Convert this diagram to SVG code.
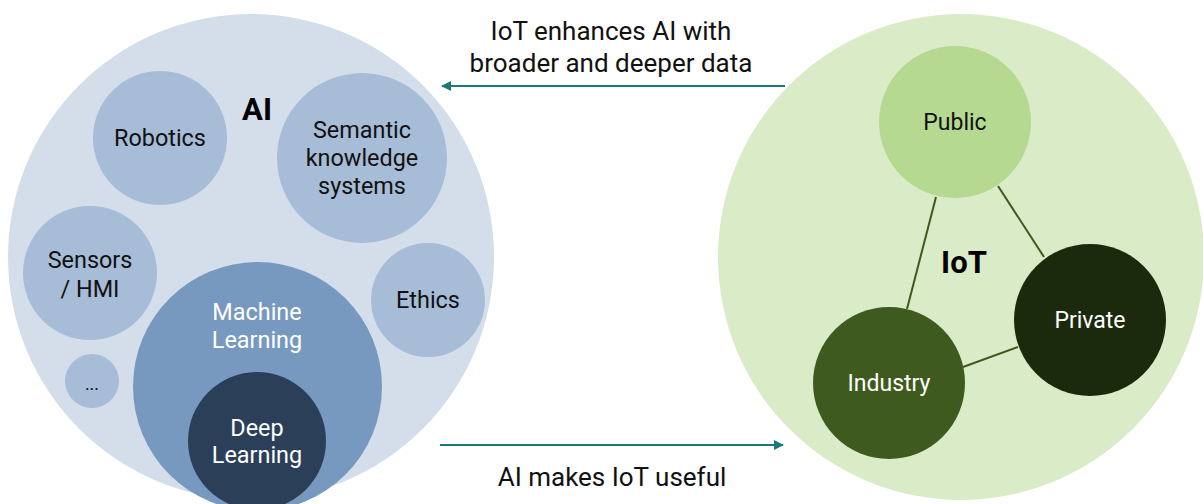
<svg xmlns="http://www.w3.org/2000/svg" width="1203" height="504" viewBox="0 0 1203 504">
<defs>
<style>
text{font-family:Roboto,"Liberation Sans",Arial,sans-serif;text-anchor:middle}
.t{font-size:23.4px;fill:#111}
.w{font-size:23.4px;fill:#fff}
.s{font-size:23px;fill:#111}
.sw{font-size:23px;fill:#fff}
.big{font-size:31px;font-weight:bold;fill:#000}
.lbl{font-size:26px;fill:#111}
.sub{fill:#a7bcd6}
.con{stroke:#3d5a1e;stroke-width:2;fill:none}
.arr{stroke:#1a7a78;stroke-width:2;fill:none;marker-end:url(#ah)}
</style>
<marker id="ah" viewBox="0 0 10 10" refX="9" refY="5" markerWidth="5" markerHeight="5" orient="auto">
<path d="M0,0 L10,5 L0,10 z" fill="#1a7a78"/>
</marker>
</defs>
<rect width="1203" height="504" fill="#fff"/>
<g id="ai">
<circle cx="251" cy="257" r="243" fill="#d3deea"/>
<text class="big" x="257" y="120">AI</text>
</g>
<g id="robotics"><circle class="sub" cx="160" cy="138" r="67"/><text class="t" x="160" y="146">Robotics</text></g>
<g id="semantic"><circle class="sub" cx="362" cy="158" r="85"/><text class="t" x="362" y="138">Semantic</text><text class="t" x="362" y="166">knowledge</text><text class="t" x="362" y="194">systems</text></g>
<g id="sensors"><circle class="sub" cx="90" cy="273" r="67"/><text class="t" x="90" y="268">Sensors</text><text class="t" x="90" y="297">/ HMI</text></g>
<g id="ethics"><circle class="sub" cx="428" cy="300" r="57"/><text class="t" x="428" y="308">Ethics</text></g>
<g id="more"><circle class="sub" cx="92" cy="381" r="27"/><text class="t" x="92" y="390" style="font-size:18px">...</text></g>
<g id="ml"><circle cx="257.5" cy="386.5" r="124.5" fill="#7799bf"/><text class="w" x="257" y="320">Machine</text><text class="w" x="257" y="348">Learning</text></g>
<g id="dl"><circle cx="257" cy="441" r="69" fill="#2b3f58"/><text class="w" x="257" y="436">Deep</text><text class="w" x="257" y="463">Learning</text></g>
<g id="iot">
<circle cx="961" cy="257" r="243" fill="#daebc8"/>
<text class="big" x="964" y="273">IoT</text>
</g>
<g id="connectors">
<line class="con" x1="936" y1="197" x2="907" y2="309"/>
<line class="con" x1="998" y1="186" x2="1044" y2="257"/>
<line class="con" x1="963" y1="367" x2="1018" y2="347"/>
<line class="arr" x1="785" y1="86" x2="442" y2="86"/>
<line class="arr" x1="440" y1="445" x2="783" y2="445"/>
</g>
<g id="public"><circle cx="955" cy="122" r="76" fill="#b6d991"/><text class="s" x="955" y="130">Public</text></g>
<g id="private"><circle cx="1090" cy="320" r="76" fill="#1b2a0d"/><text class="sw" x="1090" y="328">Private</text></g>
<g id="industry"><circle cx="889" cy="383" r="76" fill="#3f5a1e"/><text class="sw" x="889" y="391">Industry</text></g>
<g id="labels">
<text class="lbl" x="611" y="40">IoT enhances AI with</text>
<text class="lbl" x="611" y="72">broader and deeper data</text>
<text class="lbl" x="612" y="486">AI makes IoT useful</text>
</g>
</svg>
